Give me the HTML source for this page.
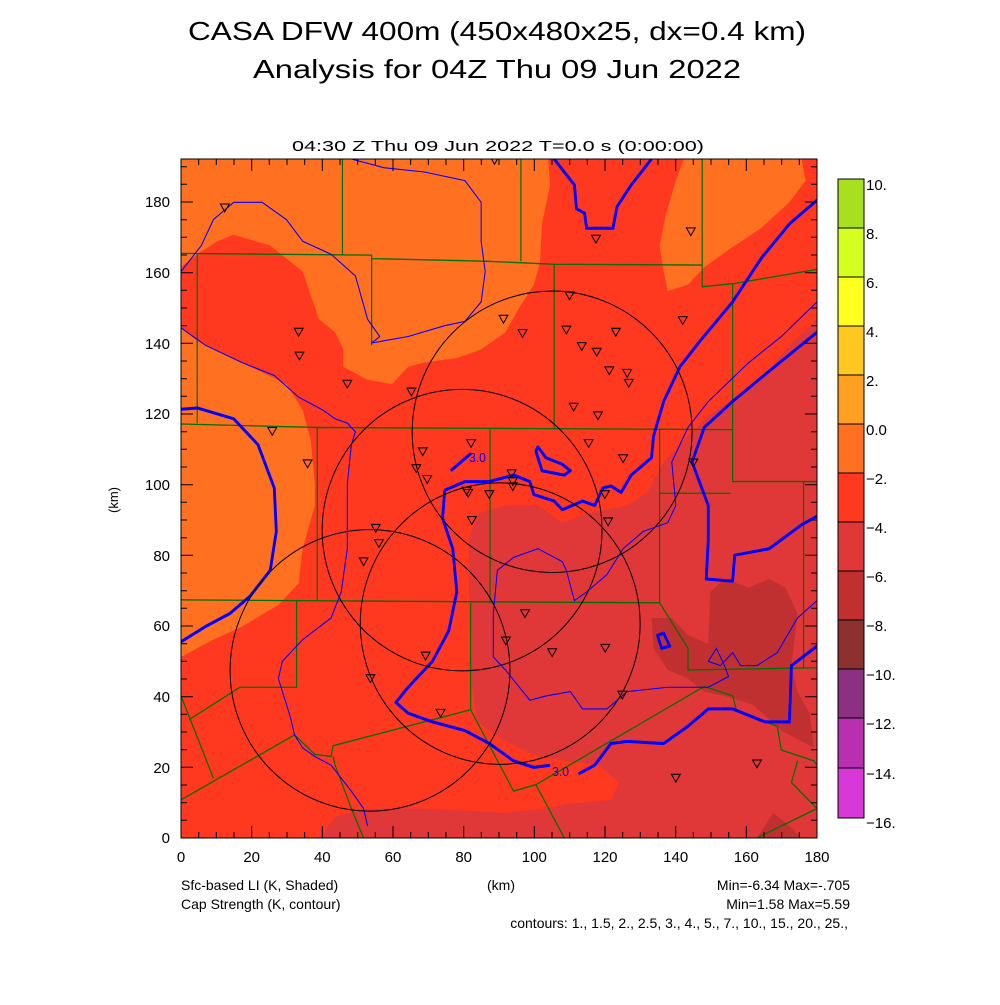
<!DOCTYPE html>
<html><head><meta charset="utf-8"><style>
body{margin:0;background:#fff}
svg text{font-family:"Liberation Sans",sans-serif;fill:#000}
</style></head><body>
<svg width="1000" height="1000" viewBox="0 0 1000 1000" xmlns="http://www.w3.org/2000/svg">
<rect width="1000" height="1000" fill="#fff"/>
<text x="497" y="40" font-size="26" text-anchor="middle" textLength="618" lengthAdjust="spacingAndGlyphs">CASA DFW 400m (450x480x25, dx=0.4 km)</text>
<text x="497" y="78" font-size="26" text-anchor="middle" textLength="488" lengthAdjust="spacingAndGlyphs">Analysis for 04Z Thu 09 Jun 2022</text>
<text x="498" y="151" font-size="15" text-anchor="middle" textLength="412" lengthAdjust="spacingAndGlyphs">04:30 Z Thu 09 Jun 2022    T=0.0 s (0:00:00)</text>
<defs><clipPath id="c"><rect x="0" y="0" width="1568" height="1568"/></clipPath>
<path id="t" d="M-11,-9 L11,-9 L0,9 Z" fill="none" stroke="#000" stroke-width="2.4"/></defs>
<g transform="translate(181,159) scale(0.4056,0.433)" clip-path="url(#c)">
<rect width="1568" height="1568" fill="#ff3820"/>
<path fill="#ff7020" d="M0,0 L905,0 910,60 890,150 885,240 870,290 830,350 800,400 740,440 680,460 600,470 560,480 520,520 460,510 420,490 400,480 400,440 380,400 340,370 300,260 220,200 130,175 90,190 40,220 0,250Z"/>
<path fill="#ff7020" d="M0,390 L40,420 150,470 260,520 300,580 320,650 330,750 330,800 300,900 290,980 240,1030 150,1080 80,1110 20,1140 0,1150Z"/>
<path fill="#ff7020" d="M1240,0 L1530,0 1540,50 1500,100 1430,160 1350,210 1290,250 1250,290 1200,305 1190,260 1180,200 1195,130 1220,50Z"/>
<path fill="#e03838" d="M1568,370 L1500,430 1420,520 1350,560 1290,600 1240,650 1190,700 1150,770 1100,800 1000,820 940,840 880,800 800,800 730,820 710,880 710,1000 715,1200 730,1300 760,1320 810,1350 880,1380 950,1390 1030,1400 1080,1440 1060,1480 950,1490 900,1500 800,1510 600,1500 450,1500 380,1520 340,1568 1568,1568Z"/>
<path fill="#c03030" d="M1160,1060 L1210,1060 1250,1100 1300,1120 1305,1000 1340,970 1400,990 1450,970 1490,990 1520,1050 1505,1170 1520,1230 1550,1280 1560,1360 1480,1320 1410,1260 1340,1240 1290,1230 1250,1200 1200,1180 1165,1130Z"/>
<path fill="#c03030" d="M1420,1568 L1460,1510 1500,1540 1530,1568Z"/>
<g fill="none" stroke="#007000" stroke-width="3">
<path d="M398,0V220 M0,218 L470,222 470,230 750,236 920,243 1285,245 M838,0V236 M1285,0V295 L1360,288 1568,255 M40,220V610 M470,222V430 M920,243V625 M0,612 L335,620 1360,625 M1360,288V745 H1568 M1180,625V772 H1355 M762,625V1025 M336,620V1022 M0,1018 L285,1020 1180,1025 M1180,772V1025 L1250,1130 1250,1180 1568,1175 M1535,745V1175 M285,1020V1220 H145 L20,1295 M0,1240 L80,1430 M0,1480 L280,1330 330,1375 370,1380 375,1355 714,1272 820,1460 875,1445 1290,1218 1360,1240 1370,1275 1470,1310 1480,1365 1560,1390 1568,1400 M714,1025V1272 M375,1380 L380,1400 420,1500 450,1568 M875,1445 L945,1568 M1520,1390 L1505,1440 1568,1500 M1420,1568 L1568,1500"/>
</g>
<g fill="none" stroke="#0000ff" stroke-width="7" stroke-linejoin="round">
<path d="M0,578 L40,575 130,600 190,660 230,760 235,860 220,950 170,1010 120,1050 60,1080 0,1115"/>
<path d="M650,765 L700,745 760,745 820,730 860,745 870,775 920,790 940,810 990,790 1020,800 1040,760 1060,755 1085,770 1110,730 1160,690 1165,640 1190,560 1230,480 1280,420 1360,330 1430,230 1500,150 1568,95"/>
<path d="M650,765 L645,830 670,900 680,1000 660,1090 620,1160 560,1220 530,1255 560,1280 620,1300 700,1320 760,1350 820,1390 870,1405 910,1400"/>
<path d="M980,1420 L1020,1400 1060,1350 1100,1345 1190,1350 1250,1310 1300,1270 1360,1270 1440,1300 1500,1300 1505,1170 1568,1125"/>
<path d="M1568,400 L1450,490 1360,560 1290,620 1260,700 1300,800 1300,880 1295,970 1360,975 1365,915 1450,900 1530,845 1568,825"/>
<path d="M920,0 L970,60 975,115 995,125 1000,160 1065,160 1075,110 1110,60 1160,0"/>
<path d="M715,680 L690,700 665,720"/>
<path d="M880,665 L900,690 940,705 960,720 945,730 890,720 875,675Z"/>
<path d="M1175,1100 L1190,1095 1205,1125 1185,1130Z"/>
</g>
<g fill="none" stroke="#0000ff" stroke-width="2.5">
<path d="M0,260 L50,200 80,140 130,100 200,100 260,140 300,190 370,220 430,270 460,370 490,410 470,425 560,410 650,385 700,375 740,330 750,260 740,190 740,100 700,50 600,30 500,20 420,0"/>
<path d="M0,390 L60,430 150,470 230,500 290,550 350,580 380,600 410,610 430,630 420,660 410,750 410,900 395,1000 370,1060 300,1110 250,1160 240,1200 270,1290 280,1330 300,1360 330,1380 370,1400 420,1460 450,1500 460,1540"/>
<path d="M1568,330 L1480,410 1400,470 1300,560 1250,620 1210,700 1220,800 1200,840 1140,860 1090,900 1050,960 1000,1000 970,1020 950,950 940,930 880,900 820,920 780,950 770,1050 770,1150 800,1180 860,1250 900,1240 960,1230 990,1270 1050,1270 1100,1230 1200,1220 1300,1220 1350,1195 1340,1170 1320,1130 1300,1160 1330,1170 1360,1140 1380,1170 1420,1170 1470,1140 1520,1060 1568,1020"/>
</g>
<g font-size="30"><text x="710" y="700" style="fill:#0000ff">3.0</text><text x="915" y="1425" style="fill:#0000ff">3.0</text></g>
<g fill="none" stroke="#000" stroke-width="2.4">
<ellipse cx="915" cy="630" rx="345" ry="325"/><ellipse cx="693" cy="857" rx="345" ry="325"/><ellipse cx="787" cy="1073" rx="345" ry="325"/><ellipse cx="466" cy="1181" rx="345" ry="325"/>
</g>
<g>
<use href="#t" x="108" y="113"/><use href="#t" x="1023" y="185"/><use href="#t" x="1257" y="168"/><use href="#t" x="290" y="400"/><use href="#t" x="292" y="455"/><use href="#t" x="410" y="520"/><use href="#t" x="568" y="538"/><use href="#t" x="795" y="370"/><use href="#t" x="842" y="403"/><use href="#t" x="958" y="316"/><use href="#t" x="950" y="395"/><use href="#t" x="1072" y="400"/><use href="#t" x="988" y="433"/><use href="#t" x="1025" y="446"/><use href="#t" x="1237" y="373"/><use href="#t" x="1056" y="489"/><use href="#t" x="1100" y="495"/><use href="#t" x="1104" y="518"/><use href="#t" x="968" y="573"/><use href="#t" x="1028" y="593"/><use href="#t" x="225" y="629"/><use href="#t" x="312" y="704"/><use href="#t" x="596" y="676"/><use href="#t" x="715" y="657"/><use href="#t" x="580" y="715"/><use href="#t" x="607" y="740"/><use href="#t" x="815" y="727"/><use href="#t" x="818" y="745"/><use href="#t" x="818" y="757"/><use href="#t" x="704" y="767"/><use href="#t" x="708" y="772"/><use href="#t" x="760" y="775"/><use href="#t" x="1005" y="657"/><use href="#t" x="1090" y="692"/><use href="#t" x="1045" y="775"/><use href="#t" x="1053" y="838"/><use href="#t" x="717" y="835"/><use href="#t" x="480" y="853"/><use href="#t" x="488" y="888"/><use href="#t" x="450" y="930"/><use href="#t" x="848" y="1050"/><use href="#t" x="801" y="1113"/><use href="#t" x="603" y="1148"/><use href="#t" x="915" y="1140"/><use href="#t" x="1046" y="1130"/><use href="#t" x="467" y="1200"/><use href="#t" x="640" y="1280"/><use href="#t" x="1088" y="1238"/><use href="#t" x="1420" y="1397"/><use href="#t" x="1220" y="1430"/><use href="#t" x="1263" y="702"/><use href="#t" x="773" y="3"/>
</g>
</g>
<rect x="181" y="159" width="636" height="679" fill="none" stroke="#000" stroke-width="1"/>
<path stroke="#000" stroke-width="1" fill="none" d="
M198.7,838v-6M216.3,838v-6M234,838v-6M251.7,838v-12M269.3,838v-6M287,838v-6M304.7,838v-6M322.3,838v-12M340,838v-6M357.7,838v-6M375.3,838v-6M393,838v-12M410.7,838v-6M428.3,838v-6M446,838v-6M463.7,838v-12M481.3,838v-6M499,838v-6M516.7,838v-6M534.3,838v-12M552,838v-6M569.7,838v-6M587.3,838v-6M605,838v-12M622.7,838v-6M640.3,838v-6M658,838v-6M675.7,838v-12M693.3,838v-6M711,838v-6M728.7,838v-6M746.3,838v-12M764,838v-6M781.7,838v-6M799.3,838v-6
M198.7,159v6M216.3,159v6M234,159v6M251.7,159v12M269.3,159v6M287,159v6M304.7,159v6M322.3,159v12M340,159v6M357.7,159v6M375.3,159v6M393,159v12M410.7,159v6M428.3,159v6M446,159v6M463.7,159v12M481.3,159v6M499,159v6M516.7,159v6M534.3,159v12M552,159v6M569.7,159v6M587.3,159v6M605,159v12M622.7,159v6M640.3,159v6M658,159v6M675.7,159v12M693.3,159v6M711,159v6M728.7,159v6M746.3,159v12M764,159v6M781.7,159v6M799.3,159v6
M181,820.3h6M181,802.7h6M181,785h6M181,767.3h12M181,749.7h6M181,732h6M181,714.3h6M181,696.7h12M181,679h6M181,661.3h6M181,643.7h6M181,626h12M181,608.3h6M181,590.7h6M181,573h6M181,555.3h12M181,537.7h6M181,520h6M181,502.3h6M181,484.7h12M181,467h6M181,449.3h6M181,431.7h6M181,414h12M181,396.3h6M181,378.7h6M181,361h6M181,343.3h12M181,325.7h6M181,308h6M181,290.3h6M181,272.7h12M181,255h6M181,237.3h6M181,219.7h6M181,202h12M181,184.3h6M181,166.7h6
M817,820.3h-6M817,802.7h-6M817,785h-6M817,767.3h-12M817,749.7h-6M817,732h-6M817,714.3h-6M817,696.7h-12M817,679h-6M817,661.3h-6M817,643.7h-6M817,626h-12M817,608.3h-6M817,590.7h-6M817,573h-6M817,555.3h-12M817,537.7h-6M817,520h-6M817,502.3h-6M817,484.7h-12M817,467h-6M817,449.3h-6M817,431.7h-6M817,414h-12M817,396.3h-6M817,378.7h-6M817,361h-6M817,343.3h-12M817,325.7h-6M817,308h-6M817,290.3h-6M817,272.7h-12M817,255h-6M817,237.3h-6M817,219.7h-6M817,202h-12M817,184.3h-6M817,166.7h-6"/>
<g font-size="15" text-anchor="middle">
<text x="181" y="862">0</text><text x="251.7" y="862">20</text><text x="322.3" y="862">40</text><text x="393" y="862">60</text><text x="463.7" y="862">80</text><text x="534.3" y="862">100</text><text x="605" y="862">120</text><text x="675.7" y="862">140</text><text x="746.3" y="862">160</text><text x="817" y="862">180</text>
</g>
<g font-size="15" text-anchor="end">
<text x="170" y="843">0</text><text x="170" y="773">20</text><text x="170" y="702">40</text><text x="170" y="631">60</text><text x="170" y="561">80</text><text x="170" y="490">100</text><text x="170" y="419">120</text><text x="170" y="349">140</text><text x="170" y="278">160</text><text x="170" y="207">180</text>
</g>
<text x="118" y="500" font-size="13" text-anchor="middle" transform="rotate(-90 118 500)">(km)</text>
<g stroke="#000" stroke-width="1">
<rect x="838" y="179" width="26" height="49" fill="#a8e020"/>
<rect x="838" y="228" width="26" height="49" fill="#d4ff20"/>
<rect x="838" y="277" width="26" height="49" fill="#ffff20"/>
<rect x="838" y="326" width="26" height="49" fill="#ffc820"/>
<rect x="838" y="375" width="26" height="49" fill="#ffa020"/>
<rect x="838" y="424" width="26" height="49" fill="#ff7020"/>
<rect x="838" y="473" width="26" height="49" fill="#ff3820"/>
<rect x="838" y="522" width="26" height="49" fill="#e03838"/>
<rect x="838" y="571" width="26" height="49" fill="#c03030"/>
<rect x="838" y="620" width="26" height="49" fill="#8c3030"/>
<rect x="838" y="669" width="26" height="49" fill="#8c3080"/>
<rect x="838" y="718" width="26" height="50" fill="#b830b0"/>
<rect x="838" y="768" width="26" height="50" fill="#d838d8"/>
</g>
<g font-size="15">
<text x="866" y="190">10.</text><text x="866" y="239">8.</text><text x="866" y="288">6.</text><text x="866" y="337">4.</text><text x="866" y="386">2.</text><text x="866" y="435">0.0</text><text x="866" y="484">−2.</text><text x="866" y="533">−4.</text><text x="866" y="582">−6.</text><text x="866" y="631">−8.</text><text x="866" y="680">−10.</text><text x="866" y="729">−12.</text><text x="866" y="779">−14.</text><text x="866" y="828">−16.</text>
</g>
<g font-size="14">
<text x="181" y="890">Sfc-based LI (K, Shaded)</text>
<text x="181" y="909">Cap Strength (K, contour)</text>
<text x="487" y="890">(km)</text>
<text x="850" y="890" text-anchor="end">Min=-6.34 Max=-.705</text>
<text x="850" y="909" text-anchor="end">Min=1.58 Max=5.59</text>
<text x="848" y="928" text-anchor="end">contours: 1., 1.5, 2., 2.5, 3., 4., 5., 7., 10., 15., 20., 25.,</text>
</g>
</svg>
</body></html>
